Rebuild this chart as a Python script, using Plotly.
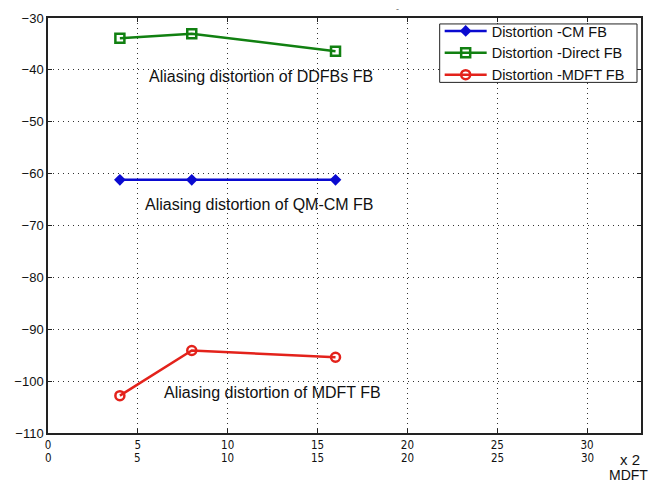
import plotly.graph_objects as go

# ---- data ----
x_vals = [4, 8, 16]
cm_fb = [-61.2, -61.2, -61.2]
direct_fb = [-33.9, -33.05, -36.4]
mdft_fb = [-102.8, -94.1, -95.4]

series_names = ["Distortion -CM FB", "Distortion -Direct FB", "Distortion -MDFT FB"]
x_ticks = [0, 5, 10, 15, 20, 25, 30]
y_ticks = [-110, -100, -90, -80, -70, -60, -50, -40, -30]

notes = ["Aliasing distortion of DDFBs FB", "Aliasing distortion of QM-CM FB", "Aliasing distortion of MDFT FB"]
note_x = [5.5, 5.3, 6.35]
note_y = [-41.3, -65.9, -102.1]

fig = go.Figure()
fig.add_trace(go.Scatter(x=x_vals, y=cm_fb, name=series_names[0], mode="lines+markers",
                         line=dict(color="#0a0ad0", width=2.5),
                         marker=dict(symbol="diamond", size=9, color="#0a0ad0")))
fig.add_trace(go.Scatter(x=x_vals, y=direct_fb, name=series_names[1], mode="lines+markers",
                         line=dict(color="#118011", width=2.5),
                         marker=dict(symbol="square-open", size=9, color="#118011", line=dict(width=2.5))))
fig.add_trace(go.Scatter(x=x_vals, y=mdft_fb, name=series_names[2], mode="lines+markers",
                         line=dict(color="#e3221b", width=2.5),
                         marker=dict(symbol="circle-open", size=9, color="#e3221b", line=dict(width=2.5))))

axis_common = dict(showline=True, linecolor="#222", linewidth=1.5, mirror="ticks",
                   ticks="inside", ticklen=4, tickcolor="#222", showgrid=True,
                   gridcolor="#333", gridwidth=1, griddash="1px,4px", zeroline=False)

W, H = 654, 485
L, R, T, B = 48, 11, 14, 52
PW, PH = W - L - R, H - T - B


def px(xp):
    return (xp - L) / PW


def py(yp):
    return (H - B - yp) / PH


tick_font = dict(family="DejaVu Sans Condensed, Liberation Sans Narrow, sans-serif", size=11.5, color="#111")

fig.update_layout(
    width=W, height=H,
    margin=dict(l=L, r=R, t=T, b=B),
    paper_bgcolor="white", plot_bgcolor="white",
    font=dict(family="Liberation Sans, Arial, sans-serif", color="#111"),
    xaxis=dict(range=[0, 33], tickvals=x_ticks, ticktext=[str(v) for v in x_ticks],
               tickfont=tick_font, **axis_common),
    yaxis=dict(range=[-110, -30], tickvals=y_ticks,
               tickfont=dict(family="Liberation Sans, Arial, sans-serif", size=13, color="#111"), **axis_common),
    legend=dict(x=px(441), y=py(11), xanchor="left", yanchor="top",
                bgcolor="rgba(0,0,0,0)", borderwidth=0,
                font=dict(family="Liberation Sans, Arial, sans-serif", size=14.5, color="#111"),
                itemwidth=42, tracegroupgap=0),
    showlegend=True,
    shapes=[dict(type="rect", xref="paper", yref="paper", x0=px(441), x1=px(639), y0=py(79), y1=py(20),
                 line=dict(color="#222", width=1), fillcolor="white", layer="above")],
)

annotations = []
for t, xx, yy in zip(notes, note_x, note_y):
    annotations.append(dict(x=xx, y=yy, xref="x", yref="y", text=t, showarrow=False,
                            xanchor="left", yanchor="middle",
                            font=dict(family="Liberation Sans, Arial, sans-serif", size=16, color="#111")))
# second row of x tick labels
for v in x_ticks:
    annotations.append(dict(x=v, y=py(458), xref="x", yref="paper", text=str(v), showarrow=False,
                            xanchor="center", yanchor="middle", font=tick_font))
annotations.append(dict(x=px(632), y=py(460), xref="paper", yref="paper", text="x 2", showarrow=False,
                        xanchor="center", yanchor="middle", font=dict(size=15, color="#111")))
annotations.append(dict(x=px(630), y=py(475), xref="paper", yref="paper", text="MDFT",
                        showarrow=False, xanchor="center", yanchor="middle", font=dict(size=14, color="#111")))
annotations.append(dict(x=px(399), y=py(5), xref="paper", yref="paper", text="-",
                        showarrow=False, xanchor="center", yanchor="middle", font=dict(size=9, color="#666")))
fig.update_layout(annotations=annotations)

fig.write_html("out.html")
